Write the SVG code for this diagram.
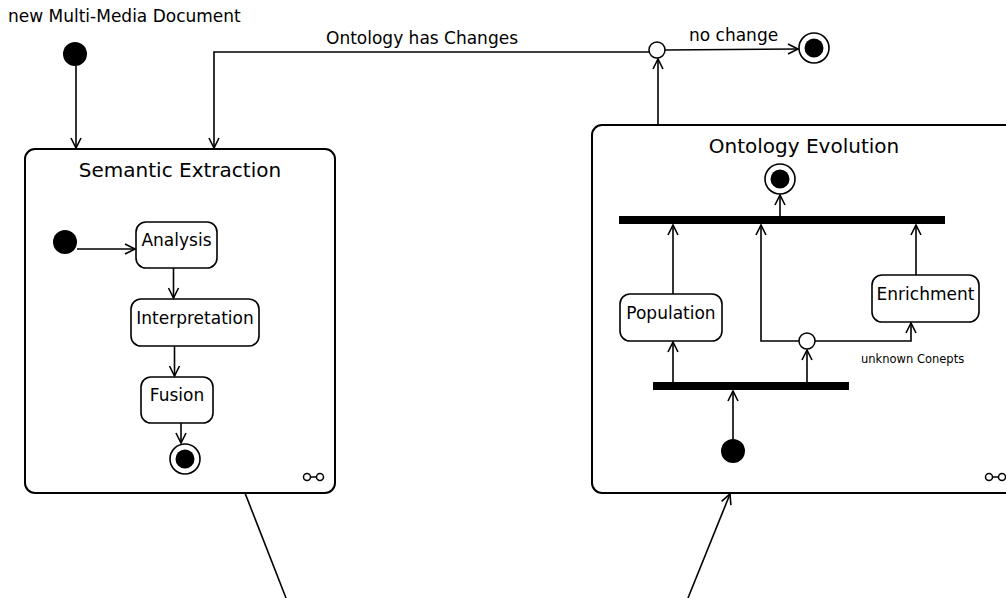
<svg xmlns="http://www.w3.org/2000/svg" width="1006" height="598" viewBox="0 0 1006 598">
<style>
text{font-family:"DejaVu Sans","Verdana",sans-serif;fill:#000}
.lbl{font-size:17px}
.ttl{font-size:20px;text-anchor:middle}
.act{font-size:17px;text-anchor:middle}
.sm{font-size:11.5px}
.box{fill:#fff;stroke:#000;stroke-width:2}
.act-r{fill:#fff;stroke:#000;stroke-width:1.6}
.ln{fill:none;stroke:#000;stroke-width:1.6}
.arr{fill:none;stroke:#000;stroke-width:1.6;marker-end:url(#a)}
.init{fill:#000}
.dec{fill:#fff;stroke:#000;stroke-width:1.5}
.bar{fill:#000}
.ico{fill:#fff;stroke:#000;stroke-width:1.5}
</style>
<defs>
<marker id="a" markerUnits="userSpaceOnUse" markerWidth="14" markerHeight="14" refX="11" refY="6" orient="auto">
<path d="M1,1 L11,6 L1,11" fill="none" stroke="#000" stroke-width="1.6"/>
</marker>
<g id="fin">
<circle r="15" fill="#fff" stroke="#000" stroke-width="1.6"/>
<circle r="9.5" fill="#000"/>
</g>
<g id="icon">
<line x1="0" y1="0" x2="13" y2="0" stroke="#000" stroke-width="1.5"/>
<circle class="ico" cx="0" cy="0" r="3.5"/>
<circle class="ico" cx="13" cy="0" r="3.5"/>
</g>
</defs>

<g id="semantic-extraction">
<rect class="box" x="25" y="149" width="310" height="344" rx="10"/>
<text class="ttl" x="180" y="177">Semantic Extraction</text>
<use href="#icon" x="307" y="477"/>
</g>

<g id="ontology-evolution">
<rect class="box" x="592" y="125" width="440" height="368" rx="10"/>
<text class="ttl" x="804" y="153">Ontology Evolution</text>
<use href="#icon" x="989" y="477"/>
</g>

<g id="start-main"><circle class="init" cx="75" cy="54" r="12"/></g>
<g id="label-new"><text class="lbl" x="8" y="22">new Multi-Media Document</text></g>
<g id="decision-top"><circle class="dec" cx="657" cy="50" r="8"/></g>
<g id="final-main"><use href="#fin" x="814" y="48"/></g>

<g id="se-start"><circle class="init" cx="65" cy="242" r="12"/></g>
<g id="analysis"><rect class="act-r" x="136" y="222" width="81" height="46" rx="10"/><text class="act" x="176.5" y="246">Analysis</text></g>
<g id="interpretation"><rect class="act-r" x="131" y="299" width="128" height="47" rx="10"/><text class="act" x="195" y="324">Interpretation</text></g>
<g id="fusion"><rect class="act-r" x="141" y="377" width="72" height="46" rx="10"/><text class="act" x="177" y="401">Fusion</text></g>
<g id="se-final"><use href="#fin" x="185" y="459"/></g>

<g id="oe-final"><use href="#fin" x="780" y="179"/></g>
<g id="join-bar"><rect class="bar" x="619" y="216" width="326" height="8"/></g>
<g id="population"><rect class="act-r" x="620" y="294" width="102" height="47" rx="10"/><text class="act" x="671" y="319">Population</text></g>
<g id="enrichment"><rect class="act-r" x="872" y="275" width="107" height="47" rx="10"/><text class="act" x="925.5" y="300">Enrichment</text></g>
<g id="decision-oe"><circle class="dec" cx="807" cy="341" r="8"/></g>
<g id="label-unknown"><text class="sm" x="861" y="363">unknown Conepts</text></g>
<g id="fork-bar"><rect class="bar" x="653" y="382" width="196" height="8"/></g>
<g id="oe-start"><circle class="init" cx="733" cy="451" r="12"/></g>

<g id="connectors">
<line class="arr" x1="76" y1="66" x2="76" y2="148"/>
<polyline class="arr" points="649,52 214,52 214,148"/>
<text class="lbl" x="326" y="44">Ontology has Changes</text>
<line class="arr" x1="658" y1="125" x2="658" y2="59"/>
<line class="arr" x1="665" y1="50" x2="798" y2="49"/>
<text class="lbl" x="689" y="41">no change</text>

<line class="arr" x1="77" y1="249" x2="135" y2="249"/>
<line class="arr" x1="173.5" y1="268" x2="173.5" y2="298"/>
<line class="arr" x1="174.5" y1="346" x2="174.5" y2="376"/>
<line class="arr" x1="181" y1="423" x2="181" y2="443"/>

<line class="arr" x1="780" y1="216" x2="780" y2="195"/>
<line class="arr" x1="673" y1="294" x2="673" y2="225"/>
<line class="arr" x1="916" y1="275" x2="916" y2="225"/>
<line class="arr" x1="673" y1="382" x2="673" y2="342"/>
<line class="arr" x1="807" y1="382" x2="807" y2="350"/>
<polyline class="arr" points="799,341 761,341 761,225"/>
<polyline class="arr" points="815,341 911,341 911,323"/>
<line class="arr" x1="733" y1="439" x2="733" y2="391"/>

<line class="ln" x1="245" y1="493" x2="286" y2="598"/>
<line class="arr" x1="688" y1="598" x2="730" y2="494"/>
</g>
</svg>
